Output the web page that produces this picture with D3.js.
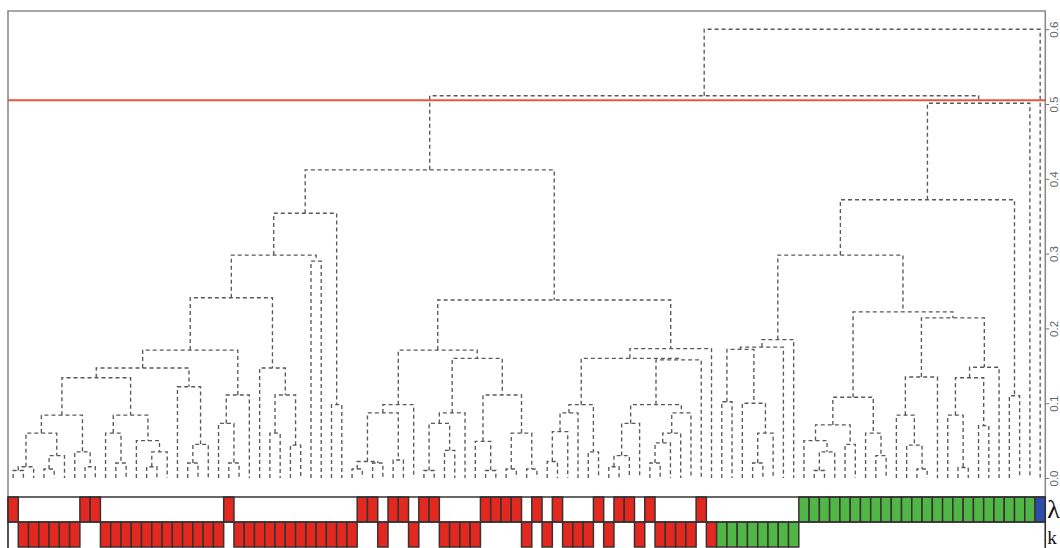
<!DOCTYPE html>
<html><head><meta charset="utf-8">
<script src="https://cdnjs.cloudflare.com/ajax/libs/d3/7.8.5/d3.min.js"></script>
<style>html,body{margin:0;padding:0;background:#fff;overflow:hidden}</style>
</head><body>
<svg id="chart" width="1060" height="548"></svg>
<script>
// ---------- data ----------
const leafCount = 101;
const tickValues = [0, 0.1, 0.2, 0.3, 0.4, 0.5, 0.6];
const cutHeight = 0.505;
const rowLabels = ["λ", "k"];
// colour rows as runs of [code, count]
const lambdaRuns = [["R",1],["W",6],["R",2],["W",12],["R",1],["W",12],["R",2],["W",1],["R",2],["W",1],["R",2],["W",4],["R",4],["W",1],["R",1],["W",1],["R",1],["W",3],["R",1],["W",1],["R",2],["W",1],["R",1],["W",4],["R",1],["W",9],["G",23],["B",1]];
const kappaRuns = [["W",1],["R",6],["W",2],["R",12],["W",1],["R",12],["W",2],["R",1],["W",2],["R",1],["W",2],["R",4],["W",4],["R",1],["W",1],["R",1],["W",1],["R",3],["W",1],["R",1],["W",2],["R",1],["W",1],["R",4],["W",1],["R",1],["G",8],["W",24]];

// dendrogram: [left, right, mergeHeight]; numbers are leaf indices (left to right)
const M1a = [[[[0,1,0.01],2,0.015],[[3,4,0.012],5,0.03],0.06],[6,[7,8,0.015],0.035],0.084];
const M1b = [[9,[10,11,0.02],0.06],[12,[[13,14,0.015],15,0.035],0.05],0.084];
const M2 = [16,[[17,18,0.02],19,0.045],0.122];
const N1 = [[20,[21,22,0.02],0.073],23,0.111];
const R273 = [24,[[25,26,0.06],[27,28,0.044],0.111],0.147];
const L1 = [[[[[M1a,M1b,0.134],M2,0.147],N1,0.171],R273,0.241],[29,30,0.29],0.298];
const L1full = [L1,[31,32,0.098],0.354];
const L2a1 = [[[[33,34,0.012],[35,36,0.02],0.022],[37,38,0.024],0.087],39,0.098];
const L2a2x = [[[40,41,0.01],[42,43,0.037],0.073],44,0.087];
const L2a2y = [[45,[46,47,0.01],0.049],[[48,49,0.012],[50,51,0.012],0.06],0.111];
const X1 = [[[[52,53,0.022],54,0.062],55,0.087],[56,57,0.035],0.098];
const X2a = [[[[58,59,0.015],60,0.03],61,0.073],[[[[62,63,0.02],64,0.047],65,0.06],66,0.087],0.098];
const L2 = [[L2a1,[L2a2x,L2a2y,0.16],0.171],[[X1,[X2a,67,0.158],0.16],68,0.173],0.238];
const R1a1 = [[[[69,70,0.102],[71,[[72,73,0.02],74,0.06],0.1],0.172],75,0.175],76,0.185];
const S1 = [[[77,[[78,79,0.01],80,0.035],0.05],[81,82,0.045],0.071],[83,[84,85,0.03],0.06],0.108];
const S2a = [[86,[87,[88,89,0.012],0.044],0.084],90,0.135];
const S2b = [[[91,[92,93,0.014],0.084],[94,95,0.07],0.134],96,0.148];
const R1 = [[R1a1,[S1,[S2a,S2b,0.214],0.222],0.298],[97,98,0.11],0.372];
const tree = [[[L1full,L2,0.412],[R1,99,0.501],0.511],100,0.6];

const colors = {R:"#e3291f", W:"#ffffff", G:"#50b646", B:"#2b4fa8"};

// ---------- drawing ----------
const svg = d3.select("#chart");
const pLeft = 8, pRight = 1045.3, pTop = 11;
const x = d3.scaleBand().domain(d3.range(leafCount)).range([pLeft, pRight]).padding(0);
const y = d3.scaleLinear().domain([0, 0.6]).range([478, 29.2]);

function expand(runs){ const out=[]; runs.forEach(([c,n])=>{for(let i=0;i<n;i++) out.push(c);}); return out; }
function toNode(t){ return (typeof t === "number") ? {leaf:t, h:0} : {h:t[2], children:[toNode(t[0]), toNode(t[1])]}; }

const root = d3.hierarchy(toNode(tree));
root.eachAfter(n => {
  n.px = n.children ? (n.children[0].px + n.children[1].px)/2 : x(n.data.leaf) + x.bandwidth()/2;
  n.py = y(n.data.h);
});

// frame
svg.append("path")
  .attr("d", `M${pLeft},548 V${pTop} H${pRight} V548`)
  .attr("fill","none").attr("stroke","#8a8a8a").attr("stroke-width",1.6);

// dendrogram
svg.append("g").selectAll("path")
  .data(root.descendants().filter(d => d.children))
  .join("path")
  .attr("d", d => { const [a,b] = d.children; return `M${a.px},${a.py}V${d.py}H${b.px}V${b.py}`; })
  .attr("fill","none").attr("stroke","#595959").attr("stroke-width",1.35)
  .attr("stroke-dasharray","4,3");

// cut line
svg.append("line")
  .attr("x1",pLeft).attr("x2",pRight).attr("y1",y(cutHeight)).attr("y2",y(cutHeight))
  .attr("stroke","#e9553d").attr("stroke-width",2);

// axis
const ax = svg.append("g").attr("transform",`translate(${pRight},0)`)
  .call(d3.axisRight(y).tickValues(tickValues).tickSize(4).tickFormat(d3.format(".1f")));
ax.select(".domain").remove();
ax.selectAll("line").attr("stroke","#777");
ax.selectAll("text")
  .attr("transform","rotate(-90)").attr("x",0).attr("y",13).attr("dy",0)
  .attr("text-anchor","middle").attr("fill","#666")
  .style("font-family","Liberation Sans, Arial, sans-serif").style("font-size","11.5px");

// colour rows
const rows = [expand(lambdaRuns), expand(kappaRuns)];
const rowTop = [497, 522], rowH = 25;
rows.forEach((codes, r) => {
  const g = svg.append("g");
  g.selectAll("rect").data(codes.map((c,i)=>({c,i})).filter(d=>d.c!=="W"))
    .join("rect")
    .attr("x", d => x(d.i)).attr("y", rowTop[r])
    .attr("width", x.bandwidth()).attr("height", rowH)
    .attr("fill", d => colors[d.c]).attr("stroke","#3a3232").attr("stroke-width",1.5);
  g.append("line").attr("x1",pLeft).attr("x2",pRight).attr("y1",rowTop[r]).attr("y2",rowTop[r])
    .attr("stroke","#333").attr("stroke-width",1.6);
  svg.append("text").attr("x", pRight+2).attr("y", rowTop[r] + (r===0 ? 21 : 22))
    .text(rowLabels[r]).attr("fill","#111")
    .style("font-family","Liberation Serif, DejaVu Serif, serif")
    .style("font-size", r===0 ? "26px" : "19px");
});
svg.append("line").attr("x1",pLeft).attr("x2",pLeft).attr("y1",497).attr("y2",548).attr("stroke","#333").attr("stroke-width",1.4);
svg.append("line").attr("x1",pRight).attr("x2",pRight).attr("y1",497).attr("y2",548).attr("stroke","#333").attr("stroke-width",1.4);
</script>
</body></html>
